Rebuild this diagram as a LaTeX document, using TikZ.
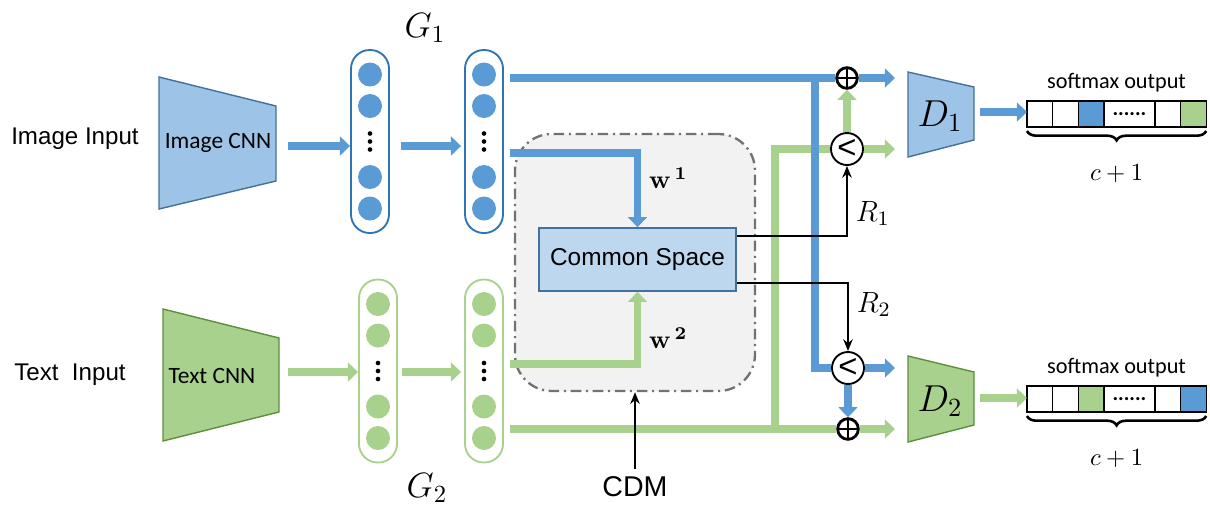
\RequirePackage{fix-cm}
\documentclass[tikz,border=0pt]{standalone}
\usepackage[no-math]{fontspec}
\setmainfont{Liberation Sans}
\newfontfamily\carlito{Carlito}
\usepackage{xcolor}
\usepackage{tikz}
\usetikzlibrary{arrows.meta,positioning,calc,decorations.pathreplacing}
\definecolor{lblue}{HTML}{5B9BD5}
\definecolor{lgreen}{HTML}{A9D18E}
\definecolor{colblue}{HTML}{2E75B6}
\definecolor{cnnblue}{HTML}{9DC3E6}
\definecolor{cnnblueb}{HTML}{41719C}
\definecolor{cnngreenb}{HTML}{5E8E3E}
\definecolor{csfill}{HTML}{BDD7EE}
\definecolor{cdmfill}{HTML}{F2F2F2}
\definecolor{cdmdraw}{HTML}{767171}

\begin{document}
\begin{tikzpicture}[x=0.015cm, y=-0.015cm, font=\fontsize{10.3}{12}\selectfont,
  fcol/.style={draw, rounded corners=0.28cm, minimum width=0.57cm, minimum height=2.745cm, line width=0.8pt},
  neuron/.style={circle, inner sep=0pt, minimum size=0.36cm},
  ln/.style={line width=3.3pt},
  arr/.style={line width=3.3pt, -{Triangle[length=4.3pt, width=8pt]}},
  tarr/.style={line width=0.9pt, -{Stealth[length=5pt, width=4pt]}},
  oplus/.style={circle, draw, fill=white, line width=1.2pt, inner sep=0pt, minimum size=0.31cm,
    path picture={\draw[line width=1.2pt] (path picture bounding box.north) -- (path picture bounding box.south)
      (path picture bounding box.west) -- (path picture bounding box.east);}},
  less/.style={circle, draw, fill=white, line width=0.8pt, inner sep=0pt, minimum size=0.48cm, font=\fontsize{14}{14}\selectfont},
  cfont/.style={font=\carlito\fontsize{10}{12}\selectfont},
  wlab/.style={text=black, font=\fontsize{11}{12}\selectfont},
  rlab/.style={font=\fontsize{12.5}{13}\selectfont},
  smcell/.style={draw, line width=0.6pt, inner sep=0pt, outer sep=0pt, minimum width=0.384cm, minimum height=0.39cm}]
\useasboundingbox (0,0) rectangle (1210,507);

% inputs and CNNs
\node (imgin) at (75,139) {Image Input};
\node (txtin) at (70,375) {Text\ \ Input};
\filldraw[fill=cnnblue, draw=cnnblueb, line width=0.6pt] (159,77) -- (276,106) -- (276,181) -- (159,209) -- cycle;
\filldraw[fill=lgreen, draw=cnngreenb, line width=0.6pt] (163,309) -- (279,338) -- (279,412) -- (163,441) -- cycle;
\node[cfont] (imgcnn) at (218,143) {Image CNN};
\node[cfont] (txtcnn) at (212,376) {Text CNN};

% CDM
\node[draw=cdmdraw, fill=cdmfill, rounded corners=0.55cm, minimum width=3.6cm, minimum height=3.855cm,
  line width=1pt, dash pattern=on 4.5pt off 2pt on 0.9pt off 2pt] (cdm) at (635,262.5) {};
\node[draw=cnnblueb, fill=csfill, line width=0.7pt, minimum width=2.955cm, minimum height=0.945cm,
  font=\fontsize{10.4}{12}\selectfont] (cs) at (637.5,259.5) {Common Space};
\node[font=\fontsize{12.2}{14}\selectfont] (cdmlab) at (635,487) {CDM};

% neuron columns
\foreach \c/\cx/\cy/\fc/\dc in {b1/370/141.5/lblue/colblue, b2/484/141.5/lblue/colblue,
                                g1/378/371/lgreen/lgreen, g2/484/371/lgreen/lgreen}{
  \node[fcol, draw=\dc] (\c) at (\cx,\cy) {};
  \foreach \dy/\k in {-67/1,-35.5/2,35.5/3,67/4}
    \node[neuron, fill=\fc] (\c-\k) at (\cx,\cy+\dy) {};
  \foreach \dy in {-8,0,8}
    \fill (\cx,\cy+\dy) circle[radius=0.035cm];
}
\node[font=\fontsize{15}{15}\selectfont] (G1) at (425,28) {$G_1$};
\node[font=\fontsize{15}{15}\selectfont] (G2) at (427,488) {$G_2$};

\coordinate (imgout) at (288,146);
\coordinate (txtout) at (288,372);
\draw[arr, lblue] (imgout) -- (imgout -| b1.west);
\draw[arr, lblue] ($(b1.east)+(11,4.5)$) -- ($(b2.west)+(-3,4.5)$);
\draw[arr, lgreen] (txtout) -- (txtout -| g1.west);
\draw[arr, lgreen] ($(g1.east)+(4,1)$) -- ($(g2.west)+(-3,1)$);

% fusion nodes
\node[oplus] (p1) at (847,78) {};
\node[less] (c1) at (847,149) {<};
\node[less] (c2) at (848,368) {<};
\node[oplus] (p2) at (848,429) {};

% discriminators
\filldraw[fill=cnnblue, draw=cnnblueb, line width=0.6pt] (908,72) -- (974,87) -- (974,140) -- (908,157) -- cycle;
\filldraw[fill=lgreen, draw=cnngreenb, line width=0.6pt] (908,356) -- (974,372) -- (974,425) -- (908,442) -- cycle;
\node[font=\fontsize{16}{16}\selectfont] (d1) at (940,116) {$D_1$};
\node[font=\fontsize{16}{16}\selectfont] (d2) at (940,401) {$D_2$};

\coordinate (b2o1) at (510,78);
\coordinate (b2o2) at (510,153);
\coordinate (g2o1) at (510,364);
\coordinate (g2o2) at (510,429);
\coordinate (gsplit) at (775,429);
\coordinate (bsplit) at (815,78);
\coordinate (d1in1) at (895,78);
\coordinate (d1in2) at (895,149);
\coordinate (d2in1) at (895,368);
\coordinate (d2in2) at (895,429);
\coordinate (d1out) at (980,112);
\coordinate (d2out) at (980,398);

% W lines into common space
\draw[arr, lblue] (b2o2) -| node[pos=0.67, right, wlab] {$\mathbf{w}^{\,\mathbf{1}}$} (cs.north);
\draw[arr, lgreen] (g2o1) -| node[pos=0.68, right, wlab] {$\mathbf{w}^{\,\mathbf{2}}$} (cs.south);

% green paths
\draw[ln, lgreen] (g2o2) -- (p2);
\draw[arr, lgreen] (p2) -- (d2in2);
\draw[ln, lgreen] (gsplit) |- (c1);
\draw[arr, lgreen] (c1) -- (d1in2);
\draw[arr, lgreen] (c1) -- (p1);

% blue paths
\draw[ln, lblue] (b2o1) -- (p1);
\draw[arr, lblue] (p1) -- (d1in1);
\draw[ln, lblue] (bsplit) |- (c2);
\draw[arr, lblue] (c2) -- (d2in1);
\draw[arr, lblue] (c2) -- (p2);

% R lines
\draw[tarr] ($(cs.east)+(0,-23.5)$) -| node[pos=0.66, right, rlab] {$R_1$} (c1.south);
\draw[tarr] ($(cs.east)+(0,23.5)$) -| node[pos=0.66, right, rlab] {$R_2$} (c2.north);
\draw[tarr] (cdmlab) -- (cdm);

% softmax outputs
\foreach \r/\yy/\ca/\cb in {1/114/lblue/lgreen, 2/399/lgreen/lblue}{
  \node[smcell, anchor=west] (s\r-1) at (1027,\yy) {};
  \node[smcell, right=0pt of s\r-1] (s\r-2) {};
  \node[smcell, fill=\ca, right=0pt of s\r-2] (s\r-3) {};
  \node[smcell, minimum width=0.768cm, right=0pt of s\r-3, font=\carlito\bfseries\fontsize{9}{10}\selectfont] (s\r-4) {......};
  \node[smcell, right=0pt of s\r-4] (s\r-5) {};
  \node[smcell, fill=\cb, right=0pt of s\r-5] (s\r-6) {};
  \node[cfont, font=\carlito\fontsize{9.5}{11}\selectfont] (sm\r) at ($(s\r-1.north west)!0.5!(s\r-6.north east)+(0,-18)$) {softmax output};
  \draw[line width=1.1pt, decorate, decoration={brace, mirror, amplitude=4pt}]
    ($(s\r-1.south west)+(0,4)$) -- ($(s\r-6.south east)+(0,4)$);
  \node[font=\fontsize{10.5}{12}\selectfont] (c\r) at ($(s\r-1.south west)!0.5!(s\r-6.south east)+(0,47)$) {$c+1$};
}
\draw[arr, lblue] (d1out) -- (d1out -| s1-1.west);
\draw[arr, lgreen] (d2out) -- (d2out -| s2-1.west);
\end{tikzpicture}
\end{document}
